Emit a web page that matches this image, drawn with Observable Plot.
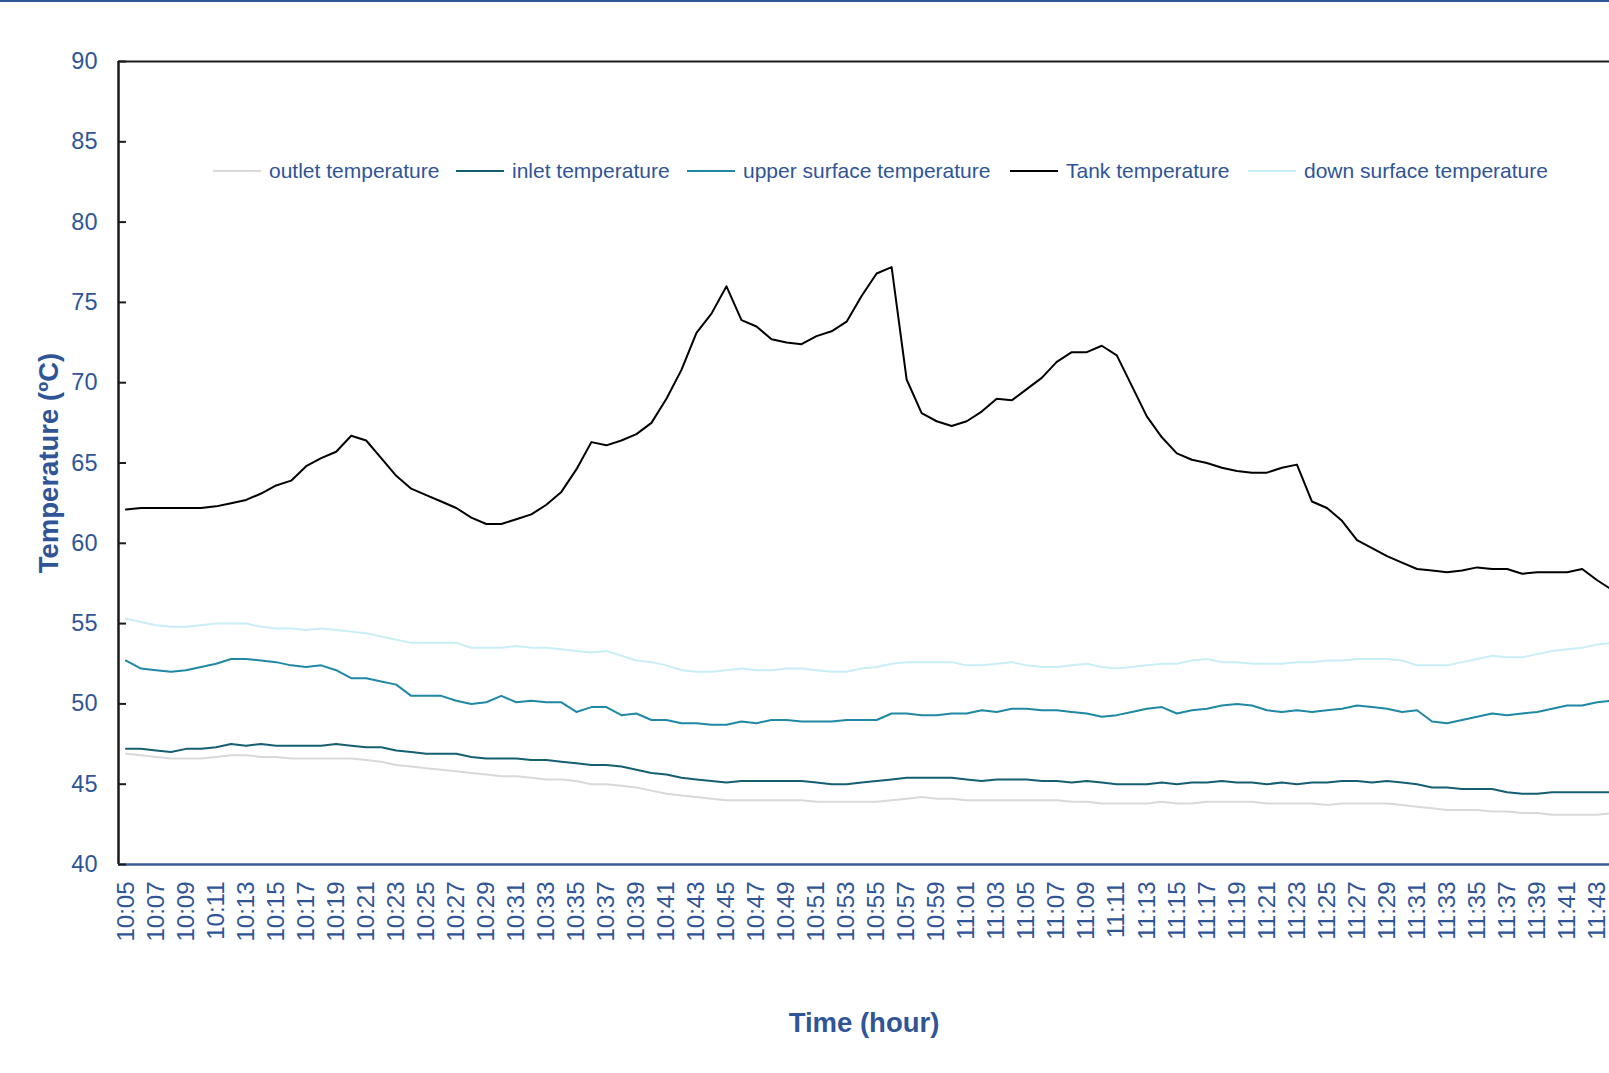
<!DOCTYPE html>
<html><head><meta charset="utf-8">
<script src="https://cdn.jsdelivr.net/npm/d3@7"></script>
<script src="https://cdn.jsdelivr.net/npm/@observablehq/plot@0.6"></script>
<style>
html,body{margin:0;padding:0;background:#fff;overflow:hidden}
#wrap{position:relative;width:1609px;height:1073px;font-family:"Liberation Sans",Arial,sans-serif}
#topline{position:absolute;left:0;top:0;width:1609px;height:2px;background:#2F5597}
#legend{position:absolute;left:0;top:0}
.item{position:absolute;top:158px;height:26px;display:flex;align-items:center;font-size:21px;color:#2F5597;white-space:nowrap}
.key{width:48px;height:2px;margin-right:8px}
</style></head><body>
<div id="wrap"><div id="chart"></div><div id="legend"></div><div id="topline"></div></div>
<script>
const times = ["10:05","10:06","10:07","10:08","10:09","10:10","10:11","10:12","10:13","10:14",
"10:15","10:16","10:17","10:18","10:19","10:20","10:21","10:22","10:23","10:24",
"10:25","10:26","10:27","10:28","10:29","10:30","10:31","10:32","10:33","10:34",
"10:35","10:36","10:37","10:38","10:39","10:40","10:41","10:42","10:43","10:44",
"10:45","10:46","10:47","10:48","10:49","10:50","10:51","10:52","10:53","10:54",
"10:55","10:56","10:57","10:58","10:59","11:00","11:01","11:02","11:03","11:04",
"11:05","11:06","11:07","11:08","11:09","11:10","11:11","11:12","11:13","11:14",
"11:15","11:16","11:17","11:18","11:19","11:20","11:21","11:22","11:23","11:24",
"11:25","11:26","11:27","11:28","11:29","11:30","11:31","11:32","11:33","11:34",
"11:35","11:36","11:37","11:38","11:39","11:40","11:41","11:42","11:43","11:44"];

const outlet = [46.9,46.8,46.7,46.6,46.6,46.6,46.7,46.8,46.8,46.7,
46.7,46.6,46.6,46.6,46.6,46.6,46.5,46.4,46.2,46.1,
46.0,45.9,45.8,45.7,45.6,45.5,45.5,45.4,45.3,45.3,
45.2,45.0,45.0,44.9,44.8,44.6,44.4,44.3,44.2,44.1,
44.0,44.0,44.0,44.0,44.0,44.0,43.9,43.9,43.9,43.9,
43.9,44.0,44.1,44.2,44.1,44.1,44.0,44.0,44.0,44.0,
44.0,44.0,44.0,43.9,43.9,43.8,43.8,43.8,43.8,43.9,
43.8,43.8,43.9,43.9,43.9,43.9,43.8,43.8,43.8,43.8,
43.7,43.8,43.8,43.8,43.8,43.7,43.6,43.5,43.4,43.4,
43.4,43.3,43.3,43.2,43.2,43.1,43.1,43.1,43.1,43.2];

const inlet = [47.2,47.2,47.1,47.0,47.2,47.2,47.3,47.5,47.4,47.5,
47.4,47.4,47.4,47.4,47.5,47.4,47.3,47.3,47.1,47.0,
46.9,46.9,46.9,46.7,46.6,46.6,46.6,46.5,46.5,46.4,
46.3,46.2,46.2,46.1,45.9,45.7,45.6,45.4,45.3,45.2,
45.1,45.2,45.2,45.2,45.2,45.2,45.1,45.0,45.0,45.1,
45.2,45.3,45.4,45.4,45.4,45.4,45.3,45.2,45.3,45.3,
45.3,45.2,45.2,45.1,45.2,45.1,45.0,45.0,45.0,45.1,
45.0,45.1,45.1,45.2,45.1,45.1,45.0,45.1,45.0,45.1,
45.1,45.2,45.2,45.1,45.2,45.1,45.0,44.8,44.8,44.7,
44.7,44.7,44.5,44.4,44.4,44.5,44.5,44.5,44.5,44.5];

const upper = [52.7,52.2,52.1,52.0,52.1,52.3,52.5,52.8,52.8,52.7,
52.6,52.4,52.3,52.4,52.1,51.6,51.6,51.4,51.2,50.5,
50.5,50.5,50.2,50.0,50.1,50.5,50.1,50.2,50.1,50.1,
49.5,49.8,49.8,49.3,49.4,49.0,49.0,48.8,48.8,48.7,
48.7,48.9,48.8,49.0,49.0,48.9,48.9,48.9,49.0,49.0,
49.0,49.4,49.4,49.3,49.3,49.4,49.4,49.6,49.5,49.7,
49.7,49.6,49.6,49.5,49.4,49.2,49.3,49.5,49.7,49.8,
49.4,49.6,49.7,49.9,50.0,49.9,49.6,49.5,49.6,49.5,
49.6,49.7,49.9,49.8,49.7,49.5,49.6,48.9,48.8,49.0,
49.2,49.4,49.3,49.4,49.5,49.7,49.9,49.9,50.1,50.2];

const tank = [62.1,62.2,62.2,62.2,62.2,62.2,62.3,62.5,62.7,63.1,
63.6,63.9,64.8,65.3,65.7,66.7,66.4,65.3,64.2,63.4,
63.0,62.6,62.2,61.6,61.2,61.2,61.5,61.8,62.4,63.2,
64.6,66.3,66.1,66.4,66.8,67.5,69.0,70.8,73.1,74.3,
76.0,73.9,73.5,72.7,72.5,72.4,72.9,73.2,73.8,75.4,
76.8,77.2,70.2,68.1,67.6,67.3,67.6,68.2,69.0,68.9,
69.6,70.3,71.3,71.9,71.9,72.3,71.7,69.8,67.9,66.6,
65.6,65.2,65.0,64.7,64.5,64.4,64.4,64.7,64.9,62.6,
62.2,61.4,60.2,59.7,59.2,58.8,58.4,58.3,58.2,58.3,
58.5,58.4,58.4,58.1,58.2,58.2,58.2,58.4,57.7,57.1];

const down = [55.3,55.1,54.9,54.8,54.8,54.9,55.0,55.0,55.0,54.8,
54.7,54.7,54.6,54.7,54.6,54.5,54.4,54.2,54.0,53.8,
53.8,53.8,53.8,53.5,53.5,53.5,53.6,53.5,53.5,53.4,
53.3,53.2,53.3,53.0,52.7,52.6,52.4,52.1,52.0,52.0,
52.1,52.2,52.1,52.1,52.2,52.2,52.1,52.0,52.0,52.2,
52.3,52.5,52.6,52.6,52.6,52.6,52.4,52.4,52.5,52.6,
52.4,52.3,52.3,52.4,52.5,52.3,52.2,52.3,52.4,52.5,
52.5,52.7,52.8,52.6,52.6,52.5,52.5,52.5,52.6,52.6,
52.7,52.7,52.8,52.8,52.8,52.7,52.4,52.4,52.4,52.6,
52.8,53.0,52.9,52.9,53.1,53.3,53.4,53.5,53.7,53.8];

const seriesNames = ["outlet temperature","inlet temperature","upper surface temperature","Tank temperature","down surface temperature"];
const seriesValues = [outlet, inlet, upper, tank, down];
const seriesColors = ["#D9D9D9","#155F71","#1F88A4","#000000","#C9EEF7"];
const yTicks = [40,45,50,55,60,65,70,75,80,85,90];
const xTickLabels = times.filter((t, k) => k % 2 === 0);

const rows = [];
seriesNames.forEach((name, s) => {
  seriesValues[s].forEach((v, i) => rows.push({series: name, i, time: times[i], value: v}));
});

const TEXT = "#2F5597";
const W = 1609, H = 1073, ML = 118, MT = 61, MB = 209, MR = 0;
const frameW = W - ML - MR;

const chart = Plot.plot({
  width: W, height: H,
  marginLeft: ML, marginTop: MT, marginBottom: MB, marginRight: MR,
  style: {fontFamily: '"Liberation Sans", Arial, sans-serif', background: "transparent", overflow: "visible"},
  x: {type: "linear", domain: [-0.5, 98.82]},
  y: {domain: [40, 90]},
  color: {domain: seriesNames, range: seriesColors},
  marks: [
    Plot.line(rows, {x: "i", y: "value", z: "series", stroke: "series", strokeWidth: 2, clip: true}),
    Plot.ruleY([90], {stroke: "#1a1a1a", strokeWidth: 2}),
    Plot.ruleX([-0.5], {stroke: "#1a1a1a", strokeWidth: 2.5}),
    Plot.ruleY([40], {stroke: "#3C5A96", strokeWidth: 2.5}),
    Plot.tickY(yTicks, {y: d => d, stroke: "#1a1a1a", strokeWidth: 2, insetRight: frameW - 8}),
    Plot.axisY(yTicks, {tickSize: 0, tickPadding: 21, fontSize: 23.5, fill: TEXT, label: null}),
    Plot.axisX(xTickLabels.map(t => times.indexOf(t)), {
      tickFormat: i => times[i], tickRotate: -90, tickSize: 0, tickPadding: 17,
      fontSize: 24, fill: TEXT, label: null
    }),
    Plot.text(["Temperature (ºC)"], {frameAnchor: "left", textAnchor: "middle", dx: -69, rotate: -90, fontSize: 27.5, fontWeight: "bold", fill: TEXT}),
    Plot.text(["Time (hour)"], {frameAnchor: "bottom", dy: 167, fontSize: 27.5, fontWeight: "bold", fill: TEXT})
  ]
});
document.getElementById("chart").appendChild(chart);

// legend (inside plot area, as in the reference)
const legendTextLeft = [269, 512, 743, 1066, 1304];
const legend = document.getElementById("legend");
seriesNames.forEach((name, s) => {
  const item = document.createElement("div");
  item.className = "item";
  item.style.left = (legendTextLeft[s] - 56) + "px";
  const key = document.createElement("span");
  key.className = "key";
  key.style.background = seriesColors[s];
  const label = document.createElement("span");
  label.textContent = name;
  item.appendChild(key); item.appendChild(label);
  legend.appendChild(item);
});
</script>
</body></html>
